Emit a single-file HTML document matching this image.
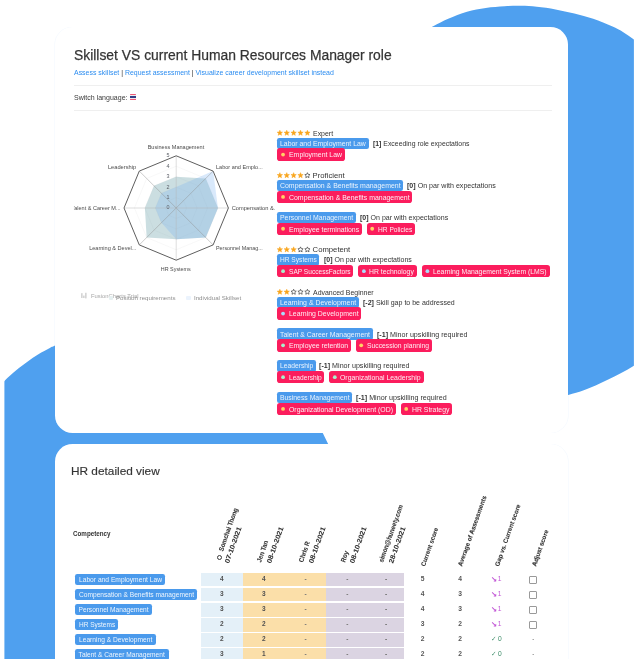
<!DOCTYPE html>
<html lang="en"><head><meta charset="utf-8"><title>Skillset VS current Human Resources Manager role</title>
<style>
html,body{margin:0;padding:0;background:#fff;}
body{width:638px;height:659px;position:relative;overflow:hidden;font-family:"Liberation Sans",sans-serif;}
.t{position:absolute;white-space:nowrap;display:block;}
.b{position:absolute;display:block;}
</style></head><body>
<svg class="b" style="left:0;top:0" width="638" height="659" viewBox="0 0 638 659"><defs><clipPath id="bc"><rect x="4.4" y="0" width="629.5" height="659"/></clipPath></defs><path d="M418.00 35.00 C420.53 33.55 428.17 29.00 433.20 26.30 C438.23 23.60 442.57 21.23 448.20 18.80 C453.83 16.37 460.73 13.52 467.00 11.70 C473.27 9.88 479.53 8.82 485.80 7.90 C492.07 6.98 498.73 6.55 504.60 6.20 C510.47 5.85 515.63 5.70 521.00 5.80 C526.37 5.90 531.03 6.20 536.80 6.80 C542.57 7.40 549.33 8.28 555.60 9.40 C561.87 10.52 568.13 11.93 574.40 13.50 C580.67 15.07 586.93 16.67 593.20 18.80 C599.47 20.93 606.98 24.07 612.00 26.30 C617.02 28.53 619.65 29.98 623.30 32.20 C626.95 34.42 630.28 36.97 633.90 39.60 C637.52 42.23 643.15 46.60 645.00 48.00 L647.00 357.00 C644.82 358.45 638.28 363.00 633.90 365.70 C629.52 368.40 624.98 370.88 620.70 373.20 C616.42 375.52 612.38 377.57 608.20 379.60 C604.02 381.63 599.78 383.60 595.60 385.40 C591.42 387.20 587.65 388.82 583.10 390.40 C578.55 391.98 573.82 393.30 568.30 394.90 C562.78 396.50 553.05 399.15 550.00 400.00 L318 423 L323 433.5 L328.5 444.8 L340 470 L340 670 L-6 670 L-6.00 391.00 C-4.27 389.32 0.65 384.38 4.40 380.90 C8.15 377.42 12.67 373.30 16.50 370.10 C20.33 366.90 23.75 364.35 27.40 361.70 C31.05 359.05 34.73 356.45 38.40 354.20 C42.07 351.95 46.72 349.60 49.40 348.20 C52.08 346.80 51.73 347.00 54.50 345.80 C57.27 344.60 64.08 341.80 66.00 341.00 Z" fill="#4fa0ef" clip-path="url(#bc)"/></svg>
<div class="b" style="left:54.60px;top:26.50px;width:513.90px;height:406.80px;background:#fff;border-radius:17.5px;box-shadow:0.6px 0 0 0 rgba(79,160,239,0.07),-0.6px 0 0 0 rgba(79,160,239,0.07);"></div>
<div class="b" style="left:54.60px;top:444.40px;width:513.90px;height:255.60px;background:#fff;border-radius:17.5px;box-shadow:0.6px 0 0 0 rgba(79,160,239,0.07),-0.6px 0 0 0 rgba(79,160,239,0.07);"></div>
<span class="t" style="left:73.50px;top:45.49px;font-size:15.4px;line-height:20.02px;color:#343434;transform:scaleX(0.9012);transform-origin:0 50%;-webkit-text-stroke:0.25px #343434;">Skillset VS current Human Resources Manager role</span>
<span class="t" style="left:73.80px;top:68.04px;font-size:7.7px;line-height:10.01px;color:#333;transform:scaleX(0.9047);transform-origin:0 50%;white-space:pre;"><span style="color:#2b8cf0">Assess skillset</span><span style="color:#333"> | </span><span style="color:#2b8cf0">Request assessment</span><span style="color:#333"> | </span><span style="color:#2b8cf0">Visualize career development skillset instead</span></span>
<div class="b" style="left:73.80px;top:84.55px;width:478.50px;height:0.90px;background:#efefef;border-radius:0px;"></div>
<div class="b" style="left:73.80px;top:109.95px;width:478.50px;height:0.90px;background:#efefef;border-radius:0px;"></div>
<span class="t" style="left:73.80px;top:93.04px;font-size:7.7px;line-height:10.01px;color:#3a3a3a;transform:scaleX(0.9140);transform-origin:0 50%;">Switch language:</span>
<div class="b" style="left:129.5px;top:94.4px;width:6.7px;height:5.2px;background:linear-gradient(#ee5a78 0 17%,#f3e9ee 17% 30%,#2f3f86 30% 70%,#f3e9ee 70% 83%,#ee5a78 83% 100%);border-radius:0.6px"></div>
<svg class="b" style="left:0;top:0" width="638" height="659" viewBox="0 0 638 659"><polygon points="176.20,197.56 183.58,200.62 186.64,208.00 183.58,215.38 176.20,218.44 168.82,215.38 165.76,208.00 168.82,200.62" fill="none" stroke="#efefef" stroke-width="0.45"/><polygon points="176.20,187.12 190.96,193.24 197.08,208.00 190.96,222.76 176.20,228.88 161.44,222.76 155.32,208.00 161.44,193.24" fill="none" stroke="#efefef" stroke-width="0.45"/><polygon points="176.20,176.68 198.35,185.85 207.52,208.00 198.35,230.15 176.20,239.32 154.05,230.15 144.88,208.00 154.05,185.85" fill="none" stroke="#efefef" stroke-width="0.45"/><polygon points="176.20,166.24 205.73,178.47 217.96,208.00 205.73,237.53 176.20,249.76 146.67,237.53 134.44,208.00 146.67,178.47" fill="none" stroke="#efefef" stroke-width="0.45"/><polygon points="176.20,176.68 205.73,178.47 217.96,208.00 205.73,237.53 176.20,239.32 146.67,237.53 144.88,208.00 154.05,185.85" fill="#6fa3ad" fill-opacity="0.36"/><polygon points="176.20,187.12 213.11,171.09 217.96,208.00 205.73,237.53 176.20,239.32 161.44,222.76 155.32,208.00 161.44,193.24" fill="#78b0f2" fill-opacity="0.28"/><line x1="176.2" y1="208.0" x2="176.20" y2="155.80" stroke="#b4b4b4" stroke-width="0.45"/><line x1="176.2" y1="208.0" x2="213.11" y2="171.09" stroke="#8c8c8c" stroke-width="0.45"/><line x1="176.2" y1="208.0" x2="228.40" y2="208.00" stroke="#b4b4b4" stroke-width="0.45"/><line x1="176.2" y1="208.0" x2="213.11" y2="244.91" stroke="#8c8c8c" stroke-width="0.45"/><line x1="176.2" y1="208.0" x2="176.20" y2="260.20" stroke="#b4b4b4" stroke-width="0.45"/><line x1="176.2" y1="208.0" x2="139.29" y2="244.91" stroke="#8c8c8c" stroke-width="0.45"/><line x1="176.2" y1="208.0" x2="124.00" y2="208.00" stroke="#b4b4b4" stroke-width="0.45"/><line x1="176.2" y1="208.0" x2="139.29" y2="171.09" stroke="#8c8c8c" stroke-width="0.45"/><polygon points="176.20,155.80 213.11,171.09 228.40,208.00 213.11,244.91 176.20,260.20 139.29,244.91 124.00,208.00 139.29,171.09" fill="none" stroke="#5e5e5e" stroke-width="1"/></svg>
<span class="t" style="left:147.21px;top:144.12px;font-size:5.7px;line-height:7.41px;color:#4a4a4a;transform:scaleX(0.9779);transform-origin:50% 50%;">Business Management</span>
<span class="t" style="left:215.90px;top:164.32px;font-size:5.7px;line-height:7.41px;color:#4a4a4a;transform:scaleX(0.9737);transform-origin:0 50%;">Labor and Emplo...</span>
<span class="t" style="left:231.70px;top:204.82px;font-size:5.7px;line-height:7.41px;color:#4a4a4a;">Compensation &amp;.</span>
<span class="t" style="left:215.90px;top:245.22px;font-size:5.7px;line-height:7.41px;color:#4a4a4a;transform:scaleX(0.9488);transform-origin:0 50%;">Personnel Manag...</span>
<span class="t" style="left:160.36px;top:265.52px;font-size:5.7px;line-height:7.41px;color:#4a4a4a;transform:scaleX(0.9473);transform-origin:50% 50%;">HR Systems</span>
<span class="t" style="left:88.12px;top:245.22px;font-size:5.7px;line-height:7.41px;color:#4a4a4a;transform:scaleX(0.9757);transform-origin:100% 50%;">Learning &amp; Devel...</span>
<span class="t" style="left:69.61px;top:204.82px;font-size:5.7px;line-height:7.41px;color:#4a4a4a;transform:scaleX(0.9721);transform-origin:100% 50%;clip-path:inset(0 0 0 2.64px);">Talent &amp; Career M...</span>
<span class="t" style="left:108.39px;top:164.32px;font-size:5.7px;line-height:7.41px;color:#4a4a4a;transform:scaleX(1.0033);transform-origin:100% 50%;">Leadership</span>
<span class="t" style="left:166.50px;top:204.49px;font-size:5.4px;line-height:7.02px;color:#5c6068;">0</span>
<span class="t" style="left:166.50px;top:194.05px;font-size:5.4px;line-height:7.02px;color:#5c6068;">1</span>
<span class="t" style="left:166.50px;top:183.61px;font-size:5.4px;line-height:7.02px;color:#5c6068;">2</span>
<span class="t" style="left:166.50px;top:173.17px;font-size:5.4px;line-height:7.02px;color:#5c6068;">3</span>
<span class="t" style="left:166.50px;top:162.73px;font-size:5.4px;line-height:7.02px;color:#5c6068;">4</span>
<span class="t" style="left:166.50px;top:152.29px;font-size:5.4px;line-height:7.02px;color:#5c6068;">5</span>
<span class="t" style="left:91.00px;top:292.58px;font-size:5.6px;line-height:7.28px;color:#a8a8a8;transform:scaleX(1.0476);transform-origin:0 50%;">FusionCharts Trial</span>
<svg class="b" style="left:81px;top:292px" width="7" height="7" viewBox="0 0 7 7"><path d="M0.9 1.2V6M2.9 3.6V6M4.9 0.8V6.4" stroke="#9c9c9c" stroke-width="0.7" fill="none"/></svg>
<div class="b" style="left:108.50px;top:295.60px;width:4.50px;height:4.40px;background:#e6f0f1;border-radius:1px;"></div>
<span class="t" style="left:115.90px;top:294.82px;font-size:5.7px;line-height:7.41px;color:#8e8e8e;transform:scaleX(1.0811);transform-origin:0 50%;">Position requirements</span>
<div class="b" style="left:186.00px;top:295.60px;width:4.50px;height:4.40px;background:#ebf3fd;border-radius:1px;"></div>
<span class="t" style="left:193.80px;top:294.82px;font-size:5.7px;line-height:7.41px;color:#8e8e8e;transform:scaleX(1.0795);transform-origin:0 50%;">Individual Skillset</span>
<svg class="b" style="left:0;top:0" width="638" height="659" viewBox="0 0 638 659"><polygon points="279.85,130.24 280.57,132.05 282.51,132.17 281.01,133.42 281.50,135.31 279.85,134.26 278.20,135.31 278.69,133.42 277.19,132.17 279.13,132.05" fill="#f8a51d" stroke="#f8a51d" stroke-width="0.5" stroke-linejoin="round"/><polygon points="286.74,130.24 287.46,132.05 289.40,132.17 287.90,133.42 288.39,135.31 286.74,134.26 285.09,135.31 285.58,133.42 284.08,132.17 286.02,132.05" fill="#f8a51d" stroke="#f8a51d" stroke-width="0.5" stroke-linejoin="round"/><polygon points="293.63,130.24 294.35,132.05 296.29,132.17 294.79,133.42 295.28,135.31 293.63,134.26 291.98,135.31 292.47,133.42 290.97,132.17 292.91,132.05" fill="#f8a51d" stroke="#f8a51d" stroke-width="0.5" stroke-linejoin="round"/><polygon points="300.52,130.24 301.24,132.05 303.18,132.17 301.68,133.42 302.17,135.31 300.52,134.26 298.87,135.31 299.36,133.42 297.86,132.17 299.80,132.05" fill="#f8a51d" stroke="#f8a51d" stroke-width="0.5" stroke-linejoin="round"/><polygon points="307.41,130.24 308.13,132.05 310.07,132.17 308.57,133.42 309.06,135.31 307.41,134.26 305.76,135.31 306.25,133.42 304.75,132.17 306.69,132.05" fill="#f8a51d" stroke="#f8a51d" stroke-width="0.5" stroke-linejoin="round"/></svg>
<span class="t" style="left:312.60px;top:128.79px;font-size:7.7px;line-height:10.01px;color:#333;transform:scaleX(0.9032);transform-origin:0 50%;">Expert</span>
<div class="b" style="left:277.45px;top:137.60px;width:91.15px;height:11.40px;background:#4a9aec;border-radius:2.2px;"></div>
<span class="t" style="left:279.95px;top:138.89px;font-size:7.7px;line-height:10.01px;color:rgba(255,255,255,.88);transform:scaleX(0.8964);transform-origin:0 50%;">Labor and Employment Law</span>
<span class="t" style="left:373.30px;top:138.80px;font-size:7.7px;line-height:10px;color:#333;transform:scaleX(0.8956);transform-origin:0 50%;white-space:pre;"><b>[1]</b> Exceeding role expectations</span>
<div class="b" style="left:277.45px;top:148.30px;width:67.25px;height:12.50px;background:#fb1d5d;border-radius:2.8px;"></div>
<span class="t" style="left:288.55px;top:150.39px;font-size:7.7px;line-height:10.01px;color:rgba(255,255,255,.92);transform:scaleX(0.8999);transform-origin:0 50%;">Employment Law</span>
<svg class="b" style="left:0;top:0" width="638" height="659" viewBox="0 0 638 659"><polygon points="279.85,172.64 280.57,174.45 282.51,174.57 281.01,175.82 281.50,177.71 279.85,176.66 278.20,177.71 278.69,175.82 277.19,174.57 279.13,174.45" fill="#f8a51d" stroke="#f8a51d" stroke-width="0.5" stroke-linejoin="round"/><polygon points="286.74,172.64 287.46,174.45 289.40,174.57 287.90,175.82 288.39,177.71 286.74,176.66 285.09,177.71 285.58,175.82 284.08,174.57 286.02,174.45" fill="#f8a51d" stroke="#f8a51d" stroke-width="0.5" stroke-linejoin="round"/><polygon points="293.63,172.64 294.35,174.45 296.29,174.57 294.79,175.82 295.28,177.71 293.63,176.66 291.98,177.71 292.47,175.82 290.97,174.57 292.91,174.45" fill="#f8a51d" stroke="#f8a51d" stroke-width="0.5" stroke-linejoin="round"/><polygon points="300.52,172.64 301.24,174.45 303.18,174.57 301.68,175.82 302.17,177.71 300.52,176.66 298.87,177.71 299.36,175.82 297.86,174.57 299.80,174.45" fill="#f8a51d" stroke="#f8a51d" stroke-width="0.5" stroke-linejoin="round"/><polygon points="307.41,172.69 308.17,174.39 310.03,174.59 308.65,175.84 309.03,177.66 307.41,176.74 305.79,177.66 306.17,175.84 304.79,174.59 306.65,174.39" fill="#fff" stroke="#333" stroke-width="0.65" stroke-linejoin="round"/></svg>
<span class="t" style="left:312.60px;top:171.19px;font-size:7.7px;line-height:10.01px;color:#333;">Proficient</span>
<div class="b" style="left:277.45px;top:180.00px;width:125.95px;height:11.40px;background:#4a9aec;border-radius:2.2px;"></div>
<span class="t" style="left:279.95px;top:181.29px;font-size:7.7px;line-height:10.01px;color:rgba(255,255,255,.88);transform:scaleX(0.9013);transform-origin:0 50%;">Compensation &amp; Benefits management</span>
<span class="t" style="left:406.90px;top:181.20px;font-size:7.7px;line-height:10px;color:#333;transform:scaleX(0.9232);transform-origin:0 50%;white-space:pre;"><b>[0]</b> On par with expectations</span>
<div class="b" style="left:277.45px;top:190.70px;width:134.95px;height:12.50px;background:#fb1d5d;border-radius:2.8px;"></div>
<span class="t" style="left:288.55px;top:192.79px;font-size:7.7px;line-height:10.01px;color:rgba(255,255,255,.92);transform:scaleX(0.9020);transform-origin:0 50%;">Compensation &amp; Benefits management</span>
<div class="b" style="left:277.45px;top:211.80px;width:78.55px;height:11.40px;background:#4a9aec;border-radius:2.2px;"></div>
<span class="t" style="left:279.95px;top:213.09px;font-size:7.7px;line-height:10.01px;color:rgba(255,255,255,.88);transform:scaleX(0.8971);transform-origin:0 50%;">Personnel Management</span>
<span class="t" style="left:359.50px;top:213.00px;font-size:7.7px;line-height:10px;color:#333;transform:scaleX(0.9170);transform-origin:0 50%;white-space:pre;"><b>[0]</b> On par with expectations</span>
<div class="b" style="left:277.45px;top:222.50px;width:84.35px;height:12.50px;background:#fb1d5d;border-radius:2.8px;"></div>
<span class="t" style="left:288.55px;top:224.59px;font-size:7.7px;line-height:10.01px;color:rgba(255,255,255,.92);transform:scaleX(0.8969);transform-origin:0 50%;">Employee terminations</span>
<div class="b" style="left:366.60px;top:222.50px;width:48.40px;height:12.50px;background:#fb1d5d;border-radius:2.8px;"></div>
<span class="t" style="left:377.70px;top:224.59px;font-size:7.7px;line-height:10.01px;color:rgba(255,255,255,.92);transform:scaleX(0.8619);transform-origin:0 50%;">HR Policies</span>
<svg class="b" style="left:0;top:0" width="638" height="659" viewBox="0 0 638 659"><polygon points="279.85,246.84 280.57,248.65 282.51,248.77 281.01,250.02 281.50,251.91 279.85,250.86 278.20,251.91 278.69,250.02 277.19,248.77 279.13,248.65" fill="#f8a51d" stroke="#f8a51d" stroke-width="0.5" stroke-linejoin="round"/><polygon points="286.74,246.84 287.46,248.65 289.40,248.77 287.90,250.02 288.39,251.91 286.74,250.86 285.09,251.91 285.58,250.02 284.08,248.77 286.02,248.65" fill="#f8a51d" stroke="#f8a51d" stroke-width="0.5" stroke-linejoin="round"/><polygon points="293.63,246.84 294.35,248.65 296.29,248.77 294.79,250.02 295.28,251.91 293.63,250.86 291.98,251.91 292.47,250.02 290.97,248.77 292.91,248.65" fill="#f8a51d" stroke="#f8a51d" stroke-width="0.5" stroke-linejoin="round"/><polygon points="300.52,246.89 301.28,248.59 303.14,248.79 301.76,250.04 302.14,251.86 300.52,250.94 298.90,251.86 299.28,250.04 297.90,248.79 299.76,248.59" fill="#fff" stroke="#333" stroke-width="0.65" stroke-linejoin="round"/><polygon points="307.41,246.89 308.17,248.59 310.03,248.79 308.65,250.04 309.03,251.86 307.41,250.94 305.79,251.86 306.17,250.04 304.79,248.79 306.65,248.59" fill="#fff" stroke="#333" stroke-width="0.65" stroke-linejoin="round"/></svg>
<span class="t" style="left:312.60px;top:245.39px;font-size:7.7px;line-height:10.01px;color:#333;">Competent</span>
<div class="b" style="left:277.45px;top:254.20px;width:41.95px;height:11.40px;background:#4a9aec;border-radius:2.2px;"></div>
<span class="t" style="left:279.95px;top:255.49px;font-size:7.7px;line-height:10.01px;color:rgba(255,255,255,.88);transform:scaleX(0.8590);transform-origin:0 50%;">HR Systems</span>
<span class="t" style="left:324.00px;top:255.40px;font-size:7.7px;line-height:10px;color:#333;transform:scaleX(0.9138);transform-origin:0 50%;white-space:pre;"><b>[0]</b> On par with expectations</span>
<div class="b" style="left:277.45px;top:264.90px;width:75.85px;height:12.50px;background:#fb1d5d;border-radius:2.8px;"></div>
<span class="t" style="left:288.55px;top:266.99px;font-size:7.7px;line-height:10.01px;color:rgba(255,255,255,.92);transform:scaleX(0.8555);transform-origin:0 50%;">SAP SuccessFactors</span>
<div class="b" style="left:358.30px;top:264.90px;width:59.00px;height:12.50px;background:#fb1d5d;border-radius:2.8px;"></div>
<span class="t" style="left:369.40px;top:266.99px;font-size:7.7px;line-height:10.01px;color:rgba(255,255,255,.92);transform:scaleX(0.8890);transform-origin:0 50%;">HR technology</span>
<div class="b" style="left:421.80px;top:264.90px;width:127.90px;height:12.50px;background:#fb1d5d;border-radius:2.8px;"></div>
<span class="t" style="left:432.90px;top:266.99px;font-size:7.7px;line-height:10.01px;color:rgba(255,255,255,.92);transform:scaleX(0.8893);transform-origin:0 50%;">Learning Management System (LMS)</span>
<svg class="b" style="left:0;top:0" width="638" height="659" viewBox="0 0 638 659"><polygon points="279.85,289.24 280.57,291.05 282.51,291.17 281.01,292.42 281.50,294.31 279.85,293.26 278.20,294.31 278.69,292.42 277.19,291.17 279.13,291.05" fill="#f8a51d" stroke="#f8a51d" stroke-width="0.5" stroke-linejoin="round"/><polygon points="286.74,289.24 287.46,291.05 289.40,291.17 287.90,292.42 288.39,294.31 286.74,293.26 285.09,294.31 285.58,292.42 284.08,291.17 286.02,291.05" fill="#f8a51d" stroke="#f8a51d" stroke-width="0.5" stroke-linejoin="round"/><polygon points="293.63,289.29 294.39,290.99 296.25,291.19 294.87,292.44 295.25,294.26 293.63,293.34 292.01,294.26 292.39,292.44 291.01,291.19 292.87,290.99" fill="#fff" stroke="#333" stroke-width="0.65" stroke-linejoin="round"/><polygon points="300.52,289.29 301.28,290.99 303.14,291.19 301.76,292.44 302.14,294.26 300.52,293.34 298.90,294.26 299.28,292.44 297.90,291.19 299.76,290.99" fill="#fff" stroke="#333" stroke-width="0.65" stroke-linejoin="round"/><polygon points="307.41,289.29 308.17,290.99 310.03,291.19 308.65,292.44 309.03,294.26 307.41,293.34 305.79,294.26 306.17,292.44 304.79,291.19 306.65,290.99" fill="#fff" stroke="#333" stroke-width="0.65" stroke-linejoin="round"/></svg>
<span class="t" style="left:312.60px;top:287.79px;font-size:7.7px;line-height:10.01px;color:#333;transform:scaleX(0.9031);transform-origin:0 50%;">Advanced Beginner</span>
<div class="b" style="left:277.45px;top:296.60px;width:81.55px;height:11.40px;background:#4a9aec;border-radius:2.2px;"></div>
<span class="t" style="left:279.95px;top:297.89px;font-size:7.7px;line-height:10.01px;color:rgba(255,255,255,.88);transform:scaleX(0.9008);transform-origin:0 50%;">Learning &amp; Development</span>
<span class="t" style="left:363.30px;top:297.80px;font-size:7.7px;line-height:10px;color:#333;transform:scaleX(0.9137);transform-origin:0 50%;white-space:pre;"><b>[-2]</b> Skill gap to be addressed</span>
<div class="b" style="left:277.45px;top:307.30px;width:83.85px;height:12.50px;background:#fb1d5d;border-radius:2.8px;"></div>
<span class="t" style="left:288.55px;top:309.39px;font-size:7.7px;line-height:10.01px;color:rgba(255,255,255,.92);transform:scaleX(0.9002);transform-origin:0 50%;">Learning Development</span>
<div class="b" style="left:277.45px;top:328.40px;width:95.35px;height:11.40px;background:#4a9aec;border-radius:2.2px;"></div>
<span class="t" style="left:279.95px;top:329.69px;font-size:7.7px;line-height:10.01px;color:rgba(255,255,255,.88);transform:scaleX(0.8963);transform-origin:0 50%;">Talent &amp; Career Management</span>
<span class="t" style="left:376.60px;top:329.60px;font-size:7.7px;line-height:10px;color:#333;transform:scaleX(0.9275);transform-origin:0 50%;white-space:pre;"><b>[-1]</b> Minor upskilling required</span>
<div class="b" style="left:277.45px;top:339.10px;width:73.35px;height:12.50px;background:#fb1d5d;border-radius:2.8px;"></div>
<span class="t" style="left:288.55px;top:341.19px;font-size:7.7px;line-height:10.01px;color:rgba(255,255,255,.92);transform:scaleX(0.8930);transform-origin:0 50%;">Employee retention</span>
<div class="b" style="left:355.60px;top:339.10px;width:76.30px;height:12.50px;background:#fb1d5d;border-radius:2.8px;"></div>
<span class="t" style="left:366.70px;top:341.19px;font-size:7.7px;line-height:10.01px;color:rgba(255,255,255,.92);transform:scaleX(0.8806);transform-origin:0 50%;">Succession planning</span>
<div class="b" style="left:277.45px;top:360.20px;width:38.45px;height:11.40px;background:#4a9aec;border-radius:2.2px;"></div>
<span class="t" style="left:279.95px;top:361.49px;font-size:7.7px;line-height:10.01px;color:rgba(255,255,255,.88);transform:scaleX(0.8726);transform-origin:0 50%;">Leadership</span>
<span class="t" style="left:319.40px;top:361.40px;font-size:7.7px;line-height:10px;color:#333;transform:scaleX(0.9285);transform-origin:0 50%;white-space:pre;"><b>[-1]</b> Minor upskilling required</span>
<div class="b" style="left:277.45px;top:370.90px;width:46.95px;height:12.50px;background:#fb1d5d;border-radius:2.8px;"></div>
<span class="t" style="left:288.55px;top:372.99px;font-size:7.7px;line-height:10.01px;color:rgba(255,255,255,.92);transform:scaleX(0.8621);transform-origin:0 50%;">Leadership</span>
<div class="b" style="left:329.20px;top:370.90px;width:94.80px;height:12.50px;background:#fb1d5d;border-radius:2.8px;"></div>
<span class="t" style="left:340.30px;top:372.99px;font-size:7.7px;line-height:10.01px;color:rgba(255,255,255,.92);transform:scaleX(0.8977);transform-origin:0 50%;">Organizational Leadership</span>
<div class="b" style="left:277.45px;top:392.00px;width:74.85px;height:11.40px;background:#4a9aec;border-radius:2.2px;"></div>
<span class="t" style="left:279.95px;top:393.29px;font-size:7.7px;line-height:10.01px;color:rgba(255,255,255,.88);transform:scaleX(0.8892);transform-origin:0 50%;">Business Management</span>
<span class="t" style="left:355.80px;top:393.20px;font-size:7.7px;line-height:10px;color:#333;transform:scaleX(0.9306);transform-origin:0 50%;white-space:pre;"><b>[-1]</b> Minor upskilling required</span>
<div class="b" style="left:277.45px;top:402.70px;width:118.25px;height:12.50px;background:#fb1d5d;border-radius:2.8px;"></div>
<span class="t" style="left:288.55px;top:404.79px;font-size:7.7px;line-height:10.01px;color:rgba(255,255,255,.92);transform:scaleX(0.8980);transform-origin:0 50%;">Organizational Development (OD)</span>
<div class="b" style="left:400.60px;top:402.70px;width:51.60px;height:12.50px;background:#fb1d5d;border-radius:2.8px;"></div>
<span class="t" style="left:411.70px;top:404.79px;font-size:7.7px;line-height:10.01px;color:rgba(255,255,255,.92);transform:scaleX(0.8942);transform-origin:0 50%;">HR Strategy</span>
<svg class="b" style="left:0;top:0" width="638" height="659" viewBox="0 0 638 659"><circle cx="283.05" cy="154.55" r="1.9" fill="#ffd166"/><circle cx="283.05" cy="196.95" r="1.9" fill="#ffd166"/><circle cx="283.05" cy="228.75" r="1.9" fill="#ffd166"/><circle cx="372.20" cy="228.75" r="1.9" fill="#ffd166"/><circle cx="283.05" cy="271.15" r="1.9" fill="#a8f0cc"/><circle cx="363.90" cy="271.15" r="1.9" fill="#a9dcfb"/><circle cx="427.40" cy="271.15" r="1.9" fill="#a9dcfb"/><circle cx="283.05" cy="313.55" r="1.9" fill="#a9dcfb"/><circle cx="283.05" cy="345.35" r="1.9" fill="#a8f0cc"/><circle cx="361.20" cy="345.35" r="1.9" fill="#ffd166"/><circle cx="283.05" cy="377.15" r="1.9" fill="#a8f0cc"/><circle cx="334.80" cy="377.15" r="1.9" fill="#a8f0cc"/><circle cx="283.05" cy="408.95" r="1.9" fill="#ffd166"/><circle cx="406.20" cy="408.95" r="1.9" fill="#ffd166"/></svg>
<span class="t" style="left:70.60px;top:464.39px;font-size:11.4px;line-height:14.82px;color:#343434;transform:scaleX(1.0381);transform-origin:0 50%;-webkit-text-stroke:0.15px #343434;">HR detailed view</span>
<span class="t" style="left:73.30px;top:530.00px;font-size:6.3px;line-height:8.19px;color:#333;font-weight:bold;transform:scaleX(0.9918);transform-origin:0 50%;">Competency</span>
<div class="b" style="left:201.20px;top:572.60px;width:41.40px;height:13.85px;background:#e4f0f8;border-radius:0px;"></div>
<span class="t" style="left:220.09px;top:575.20px;font-size:6.5px;line-height:8.45px;color:#505050;font-weight:bold;">4</span>
<div class="b" style="left:242.60px;top:572.60px;width:42.40px;height:13.85px;background:#fbdfa9;border-radius:0px;"></div>
<span class="t" style="left:261.99px;top:575.20px;font-size:6.5px;line-height:8.45px;color:#505050;font-weight:bold;">4</span>
<div class="b" style="left:285.00px;top:572.60px;width:41.40px;height:13.85px;background:#fbdfa9;border-radius:0px;"></div>
<span class="t" style="left:304.62px;top:575.20px;font-size:6.5px;line-height:8.45px;color:#777;font-weight:bold;">-</span>
<div class="b" style="left:326.40px;top:572.60px;width:42.00px;height:13.85px;background:#dbd4e2;border-radius:0px;"></div>
<span class="t" style="left:346.32px;top:575.20px;font-size:6.5px;line-height:8.45px;color:#777;font-weight:bold;">-</span>
<div class="b" style="left:368.40px;top:572.60px;width:35.20px;height:13.85px;background:#dbd4e2;border-radius:0px;"></div>
<span class="t" style="left:384.92px;top:575.20px;font-size:6.5px;line-height:8.45px;color:#777;font-weight:bold;">-</span>
<div class="b" style="left:75.00px;top:573.92px;width:90.30px;height:11.10px;background:#4a9aec;border-radius:2.2px;"></div>
<span class="t" style="left:78.60px;top:575.74px;font-size:6.6px;line-height:8.58px;color:rgba(255,255,255,.9);transform:scaleX(1.0112);transform-origin:0 50%;">Labor and Employment Law</span>
<span class="t" style="left:420.74px;top:575.07px;font-size:6.7px;line-height:8.71px;color:#555;font-weight:bold;">5</span>
<span class="t" style="left:458.14px;top:575.07px;font-size:6.7px;line-height:8.71px;color:#555;font-weight:bold;">4</span>
<span class="t" style="left:490.75px;top:574.68px;font-size:7.6px;line-height:9.88px;color:#c257d6;font-family:'DejaVu Sans',sans-serif;font-weight:bold;">↘</span>
<span class="t" style="left:497.74px;top:575.07px;font-size:6.7px;line-height:8.71px;color:#c257d6;">1</span>
<div class="b" style="left:528.80px;top:575.92px;width:6.0px;height:6.0px;border:0.55px solid #9a9a9a;border-radius:1px;background:#fff"></div>
<div class="b" style="left:201.20px;top:587.65px;width:41.40px;height:13.85px;background:#e4f0f8;border-radius:0px;"></div>
<span class="t" style="left:220.09px;top:590.25px;font-size:6.5px;line-height:8.45px;color:#505050;font-weight:bold;">3</span>
<div class="b" style="left:242.60px;top:587.65px;width:42.40px;height:13.85px;background:#fbdfa9;border-radius:0px;"></div>
<span class="t" style="left:261.99px;top:590.25px;font-size:6.5px;line-height:8.45px;color:#505050;font-weight:bold;">3</span>
<div class="b" style="left:285.00px;top:587.65px;width:41.40px;height:13.85px;background:#fbdfa9;border-radius:0px;"></div>
<span class="t" style="left:304.62px;top:590.25px;font-size:6.5px;line-height:8.45px;color:#777;font-weight:bold;">-</span>
<div class="b" style="left:326.40px;top:587.65px;width:42.00px;height:13.85px;background:#dbd4e2;border-radius:0px;"></div>
<span class="t" style="left:346.32px;top:590.25px;font-size:6.5px;line-height:8.45px;color:#777;font-weight:bold;">-</span>
<div class="b" style="left:368.40px;top:587.65px;width:35.20px;height:13.85px;background:#dbd4e2;border-radius:0px;"></div>
<span class="t" style="left:384.92px;top:590.25px;font-size:6.5px;line-height:8.45px;color:#777;font-weight:bold;">-</span>
<div class="b" style="left:75.00px;top:588.97px;width:122.40px;height:11.10px;background:#4a9aec;border-radius:2.2px;"></div>
<span class="t" style="left:78.60px;top:590.78px;font-size:6.6px;line-height:8.58px;color:rgba(255,255,255,.9);transform:scaleX(1.0032);transform-origin:0 50%;">Compensation &amp; Benefits management</span>
<span class="t" style="left:420.74px;top:590.12px;font-size:6.7px;line-height:8.71px;color:#555;font-weight:bold;">4</span>
<span class="t" style="left:458.14px;top:590.12px;font-size:6.7px;line-height:8.71px;color:#555;font-weight:bold;">3</span>
<span class="t" style="left:490.75px;top:589.73px;font-size:7.6px;line-height:9.88px;color:#c257d6;font-family:'DejaVu Sans',sans-serif;font-weight:bold;">↘</span>
<span class="t" style="left:497.74px;top:590.12px;font-size:6.7px;line-height:8.71px;color:#c257d6;">1</span>
<div class="b" style="left:528.80px;top:590.97px;width:6.0px;height:6.0px;border:0.55px solid #9a9a9a;border-radius:1px;background:#fff"></div>
<div class="b" style="left:201.20px;top:602.70px;width:41.40px;height:13.85px;background:#e4f0f8;border-radius:0px;"></div>
<span class="t" style="left:220.09px;top:605.30px;font-size:6.5px;line-height:8.45px;color:#505050;font-weight:bold;">3</span>
<div class="b" style="left:242.60px;top:602.70px;width:42.40px;height:13.85px;background:#fbdfa9;border-radius:0px;"></div>
<span class="t" style="left:261.99px;top:605.30px;font-size:6.5px;line-height:8.45px;color:#505050;font-weight:bold;">3</span>
<div class="b" style="left:285.00px;top:602.70px;width:41.40px;height:13.85px;background:#fbdfa9;border-radius:0px;"></div>
<span class="t" style="left:304.62px;top:605.30px;font-size:6.5px;line-height:8.45px;color:#777;font-weight:bold;">-</span>
<div class="b" style="left:326.40px;top:602.70px;width:42.00px;height:13.85px;background:#dbd4e2;border-radius:0px;"></div>
<span class="t" style="left:346.32px;top:605.30px;font-size:6.5px;line-height:8.45px;color:#777;font-weight:bold;">-</span>
<div class="b" style="left:368.40px;top:602.70px;width:35.20px;height:13.85px;background:#dbd4e2;border-radius:0px;"></div>
<span class="t" style="left:384.92px;top:605.30px;font-size:6.5px;line-height:8.45px;color:#777;font-weight:bold;">-</span>
<div class="b" style="left:75.00px;top:604.02px;width:77.30px;height:11.10px;background:#4a9aec;border-radius:2.2px;"></div>
<span class="t" style="left:78.60px;top:605.84px;font-size:6.6px;line-height:8.58px;color:rgba(255,255,255,.9);">Personnel Management</span>
<span class="t" style="left:420.74px;top:605.17px;font-size:6.7px;line-height:8.71px;color:#555;font-weight:bold;">4</span>
<span class="t" style="left:458.14px;top:605.17px;font-size:6.7px;line-height:8.71px;color:#555;font-weight:bold;">3</span>
<span class="t" style="left:490.75px;top:604.78px;font-size:7.6px;line-height:9.88px;color:#c257d6;font-family:'DejaVu Sans',sans-serif;font-weight:bold;">↘</span>
<span class="t" style="left:497.74px;top:605.17px;font-size:6.7px;line-height:8.71px;color:#c257d6;">1</span>
<div class="b" style="left:528.80px;top:606.02px;width:6.0px;height:6.0px;border:0.55px solid #9a9a9a;border-radius:1px;background:#fff"></div>
<div class="b" style="left:201.20px;top:617.75px;width:41.40px;height:13.85px;background:#e4f0f8;border-radius:0px;"></div>
<span class="t" style="left:220.09px;top:620.35px;font-size:6.5px;line-height:8.45px;color:#505050;font-weight:bold;">2</span>
<div class="b" style="left:242.60px;top:617.75px;width:42.40px;height:13.85px;background:#fbdfa9;border-radius:0px;"></div>
<span class="t" style="left:261.99px;top:620.35px;font-size:6.5px;line-height:8.45px;color:#505050;font-weight:bold;">2</span>
<div class="b" style="left:285.00px;top:617.75px;width:41.40px;height:13.85px;background:#fbdfa9;border-radius:0px;"></div>
<span class="t" style="left:304.62px;top:620.35px;font-size:6.5px;line-height:8.45px;color:#777;font-weight:bold;">-</span>
<div class="b" style="left:326.40px;top:617.75px;width:42.00px;height:13.85px;background:#dbd4e2;border-radius:0px;"></div>
<span class="t" style="left:346.32px;top:620.35px;font-size:6.5px;line-height:8.45px;color:#777;font-weight:bold;">-</span>
<div class="b" style="left:368.40px;top:617.75px;width:35.20px;height:13.85px;background:#dbd4e2;border-radius:0px;"></div>
<span class="t" style="left:384.92px;top:620.35px;font-size:6.5px;line-height:8.45px;color:#777;font-weight:bold;">-</span>
<div class="b" style="left:75.00px;top:619.07px;width:43.40px;height:11.10px;background:#4a9aec;border-radius:2.2px;"></div>
<span class="t" style="left:78.60px;top:620.88px;font-size:6.6px;line-height:8.58px;color:rgba(255,255,255,.9);transform:scaleX(0.9871);transform-origin:0 50%;">HR Systems</span>
<span class="t" style="left:420.74px;top:620.22px;font-size:6.7px;line-height:8.71px;color:#555;font-weight:bold;">3</span>
<span class="t" style="left:458.14px;top:620.22px;font-size:6.7px;line-height:8.71px;color:#555;font-weight:bold;">2</span>
<span class="t" style="left:490.75px;top:619.83px;font-size:7.6px;line-height:9.88px;color:#c257d6;font-family:'DejaVu Sans',sans-serif;font-weight:bold;">↘</span>
<span class="t" style="left:497.74px;top:620.22px;font-size:6.7px;line-height:8.71px;color:#c257d6;">1</span>
<div class="b" style="left:528.80px;top:621.07px;width:6.0px;height:6.0px;border:0.55px solid #9a9a9a;border-radius:1px;background:#fff"></div>
<div class="b" style="left:201.20px;top:632.80px;width:41.40px;height:13.85px;background:#e4f0f8;border-radius:0px;"></div>
<span class="t" style="left:220.09px;top:635.40px;font-size:6.5px;line-height:8.45px;color:#505050;font-weight:bold;">2</span>
<div class="b" style="left:242.60px;top:632.80px;width:42.40px;height:13.85px;background:#fbdfa9;border-radius:0px;"></div>
<span class="t" style="left:261.99px;top:635.40px;font-size:6.5px;line-height:8.45px;color:#505050;font-weight:bold;">2</span>
<div class="b" style="left:285.00px;top:632.80px;width:41.40px;height:13.85px;background:#fbdfa9;border-radius:0px;"></div>
<span class="t" style="left:304.62px;top:635.40px;font-size:6.5px;line-height:8.45px;color:#777;font-weight:bold;">-</span>
<div class="b" style="left:326.40px;top:632.80px;width:42.00px;height:13.85px;background:#dbd4e2;border-radius:0px;"></div>
<span class="t" style="left:346.32px;top:635.40px;font-size:6.5px;line-height:8.45px;color:#777;font-weight:bold;">-</span>
<div class="b" style="left:368.40px;top:632.80px;width:35.20px;height:13.85px;background:#dbd4e2;border-radius:0px;"></div>
<span class="t" style="left:384.92px;top:635.40px;font-size:6.5px;line-height:8.45px;color:#777;font-weight:bold;">-</span>
<div class="b" style="left:75.00px;top:634.12px;width:80.50px;height:11.10px;background:#4a9aec;border-radius:2.2px;"></div>
<span class="t" style="left:78.60px;top:635.94px;font-size:6.6px;line-height:8.58px;color:rgba(255,255,255,.9);transform:scaleX(1.0090);transform-origin:0 50%;">Learning &amp; Development</span>
<span class="t" style="left:420.74px;top:635.27px;font-size:6.7px;line-height:8.71px;color:#555;font-weight:bold;">2</span>
<span class="t" style="left:458.14px;top:635.27px;font-size:6.7px;line-height:8.71px;color:#555;font-weight:bold;">2</span>
<span class="t" style="left:490.92px;top:635.34px;font-size:6.6px;line-height:8.58px;color:#3c8c68;font-family:'DejaVu Sans',sans-serif;">✓</span>
<span class="t" style="left:497.94px;top:635.27px;font-size:6.7px;line-height:8.71px;color:#3c8c68;">0</span>
<span class="t" style="left:532.20px;top:635.73px;font-size:6.0px;line-height:7.8px;color:#555;">-</span>
<div class="b" style="left:201.20px;top:647.85px;width:41.40px;height:13.85px;background:#e4f0f8;border-radius:0px;"></div>
<span class="t" style="left:220.09px;top:650.45px;font-size:6.5px;line-height:8.45px;color:#505050;font-weight:bold;">3</span>
<div class="b" style="left:242.60px;top:647.85px;width:42.40px;height:13.85px;background:#fbdfa9;border-radius:0px;"></div>
<span class="t" style="left:261.99px;top:650.45px;font-size:6.5px;line-height:8.45px;color:#505050;font-weight:bold;">1</span>
<div class="b" style="left:285.00px;top:647.85px;width:41.40px;height:13.85px;background:#fbdfa9;border-radius:0px;"></div>
<span class="t" style="left:304.62px;top:650.45px;font-size:6.5px;line-height:8.45px;color:#777;font-weight:bold;">-</span>
<div class="b" style="left:326.40px;top:647.85px;width:42.00px;height:13.85px;background:#dbd4e2;border-radius:0px;"></div>
<span class="t" style="left:346.32px;top:650.45px;font-size:6.5px;line-height:8.45px;color:#777;font-weight:bold;">-</span>
<div class="b" style="left:368.40px;top:647.85px;width:35.20px;height:13.85px;background:#dbd4e2;border-radius:0px;"></div>
<span class="t" style="left:384.92px;top:650.45px;font-size:6.5px;line-height:8.45px;color:#777;font-weight:bold;">-</span>
<div class="b" style="left:75.00px;top:649.17px;width:93.60px;height:11.10px;background:#4a9aec;border-radius:2.2px;"></div>
<span class="t" style="left:78.60px;top:650.99px;font-size:6.6px;line-height:8.58px;color:rgba(255,255,255,.9);">Talent &amp; Career Management</span>
<span class="t" style="left:420.74px;top:650.32px;font-size:6.7px;line-height:8.71px;color:#555;font-weight:bold;">2</span>
<span class="t" style="left:458.14px;top:650.32px;font-size:6.7px;line-height:8.71px;color:#555;font-weight:bold;">2</span>
<span class="t" style="left:490.92px;top:650.38px;font-size:6.6px;line-height:8.58px;color:#3c8c68;font-family:'DejaVu Sans',sans-serif;">✓</span>
<span class="t" style="left:497.94px;top:650.32px;font-size:6.7px;line-height:8.71px;color:#3c8c68;">0</span>
<span class="t" style="left:532.20px;top:650.77px;font-size:6.0px;line-height:7.8px;color:#555;">-</span>
<div class="b" style="left:217.00px;top:555.10px;width:3.0px;height:3.0px;border:1.05px solid #3a3a3a;border-radius:50%"></div>
<span class="t" style="left:221.40px;top:547.20px;font-size:6.8px;line-height:8px;color:#333;font-weight:bold;-webkit-text-stroke:0.08px #333;transform:rotate(-70.5deg) scaleX(0.8882);transform-origin:0 50%;">Somchai Thong</span>
<span class="t" style="left:226.90px;top:559.30px;font-size:6.8px;line-height:8px;color:#333;font-weight:bold;-webkit-text-stroke:0.08px #333;transform:rotate(-70.5deg) scaleX(1.0924);transform-origin:0 50%;">07-10-2021</span>
<span class="t" style="left:259.20px;top:557.50px;font-size:6.8px;line-height:8px;color:#333;font-weight:bold;-webkit-text-stroke:0.08px #333;transform:rotate(-70.5deg) scaleX(0.8882);transform-origin:0 50%;">Jen Tan</span>
<span class="t" style="left:269.00px;top:559.30px;font-size:6.8px;line-height:8px;color:#333;font-weight:bold;-webkit-text-stroke:0.08px #333;transform:rotate(-70.5deg) scaleX(1.0924);transform-origin:0 50%;">08-10-2021</span>
<span class="t" style="left:300.90px;top:557.50px;font-size:6.8px;line-height:8px;color:#333;font-weight:bold;-webkit-text-stroke:0.08px #333;transform:rotate(-70.5deg) scaleX(0.8882);transform-origin:0 50%;">Chris R</span>
<span class="t" style="left:310.70px;top:559.30px;font-size:6.8px;line-height:8px;color:#333;font-weight:bold;-webkit-text-stroke:0.08px #333;transform:rotate(-70.5deg) scaleX(1.0924);transform-origin:0 50%;">08-10-2021</span>
<span class="t" style="left:342.60px;top:557.50px;font-size:6.8px;line-height:8px;color:#333;font-weight:bold;-webkit-text-stroke:0.08px #333;transform:rotate(-70.5deg) scaleX(0.8882);transform-origin:0 50%;">Roy</span>
<span class="t" style="left:352.40px;top:559.30px;font-size:6.8px;line-height:8px;color:#333;font-weight:bold;-webkit-text-stroke:0.08px #333;transform:rotate(-70.5deg) scaleX(1.0924);transform-origin:0 50%;">08-10-2021</span>
<span class="t" style="left:381.20px;top:557.50px;font-size:6.8px;line-height:8px;color:#333;font-weight:bold;-webkit-text-stroke:0.08px #333;transform:rotate(-70.5deg) scaleX(0.8882);transform-origin:0 50%;">simon@huneety.com</span>
<span class="t" style="left:391.00px;top:559.30px;font-size:6.8px;line-height:8px;color:#333;font-weight:bold;-webkit-text-stroke:0.08px #333;transform:rotate(-70.5deg) scaleX(1.0924);transform-origin:0 50%;">28-10-2021</span>
<span class="t" style="left:423.20px;top:561.60px;font-size:6.5px;line-height:8px;color:#333;font-weight:bold;-webkit-text-stroke:0.08px #333;transform:rotate(-70.5deg) scaleX(0.9478);transform-origin:0 50%;">Current score</span>
<span class="t" style="left:460.30px;top:562.00px;font-size:6.5px;line-height:8px;color:#333;font-weight:bold;-webkit-text-stroke:0.08px #333;transform:rotate(-70.5deg) scaleX(0.9670);transform-origin:0 50%;">Average of Assessments</span>
<span class="t" style="left:497.00px;top:561.60px;font-size:6.5px;line-height:8px;color:#333;font-weight:bold;-webkit-text-stroke:0.08px #333;transform:rotate(-70.5deg) scaleX(0.9586);transform-origin:0 50%;">Gap vs. Current score</span>
<span class="t" style="left:534.30px;top:562.00px;font-size:6.5px;line-height:8px;color:#333;font-weight:bold;-webkit-text-stroke:0.08px #333;transform:rotate(-70.5deg) scaleX(0.9702);transform-origin:0 50%;">Adjust score</span>
</body></html>
